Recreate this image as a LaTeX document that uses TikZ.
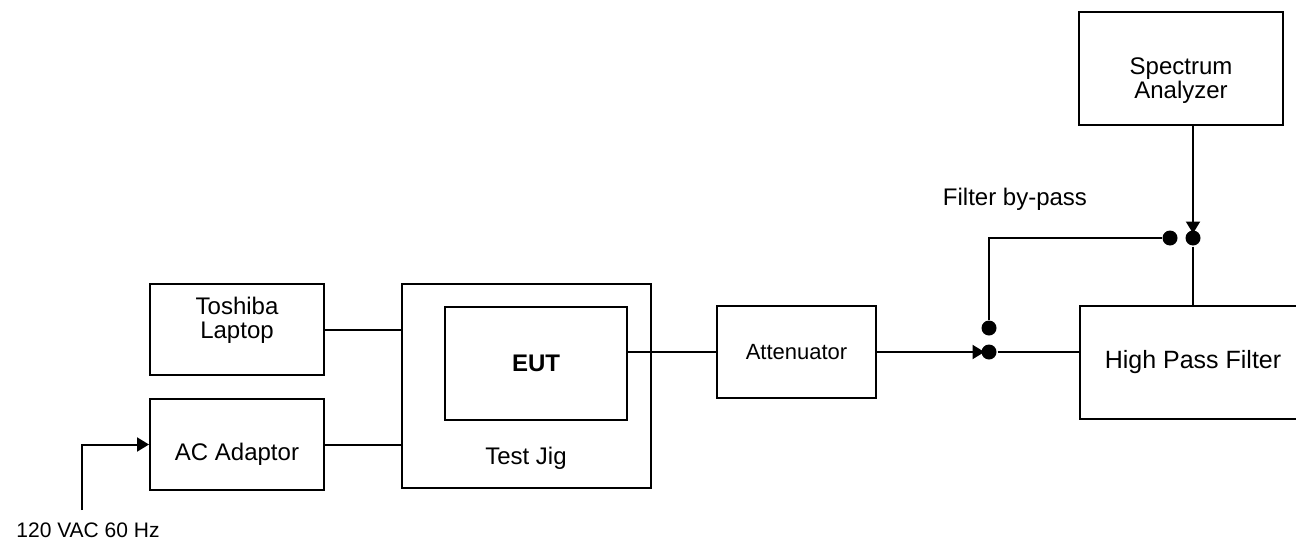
\documentclass[tikz,border=0pt]{standalone}
\usepackage{fontspec}
\setmainfont{Liberation Sans}
\usetikzlibrary{positioning,arrows.meta}

\begin{document}
\begin{tikzpicture}[x=0.5pt,y=-0.5pt,line width=1pt,
    block/.style={draw,rectangle,inner sep=0pt},
    txt/.style={align=center,font=\fontsize{12}{12}\selectfont},
    junction/.style={circle,fill,inner sep=0pt,minimum size=7.5pt},
    flow/.style={-{Triangle[length=6pt,width=7pt]}}]
\useasboundingbox (0,0) rectangle (1296,541);
\draw node[block,minimum width=87pt,minimum height=45.5pt,
      label={[txt,yshift=4.5pt]center:Toshiba\\Laptop}] (laptop) at (237,329.5) {};
\draw node[block,minimum width=87pt,minimum height=45.5pt,below=11pt of laptop,
      label={[txt,yshift=-5pt]center:AC Adaptor}] (adaptor) {};
\draw node[block,minimum width=124.5pt,minimum height=102pt,
      right=38pt of laptop.north east,anchor=north west] (jig) {};
\draw node[txt] (jiglabel) at (526,458) {Test Jig};
\draw node[block,txt,font=\fontsize{12}{12}\selectfont\bfseries,
      minimum width=91pt,minimum height=56.5pt] (eut) at (536,363.5) {EUT};
\draw node[block,txt,font=\fontsize{11}{12}\selectfont,
      minimum width=79.5pt,minimum height=46pt] (atten) at (796.5,352) {Attenuator};
\draw node[block,txt,font=\fontsize{12.5}{14}\selectfont,
      minimum width=113pt,minimum height=56.5pt] (hpf) at (1193,362.5) {High Pass Filter};
\draw node[block,minimum width=102pt,minimum height=56.5pt,
      label={[txt,yshift=-6pt]center:Spectrum\\Analyzer}] (analyzer) at (1181,68.5) {};
\draw node[txt,anchor=base] (bypasslabel) at (1015,205) {Filter by-pass};
\node[junction] (dotin) at (989,352) {};
\node[junction] (dotbyp) at (989,328) {};
\node[junction] (dottop) at (1170,238) {};
\node[junction] (dotout) at (1193,238) {};
\coordinate (mains) at (82,510);
\draw node[txt,font=\fontsize{10.5}{12}\selectfont,anchor=base] (mainslabel) at (88,537) {120 VAC 60 Hz};
\draw (laptop.east) -- (laptop.east -| jig.west);
\draw (adaptor.east) -- (adaptor.east -| jig.west);
\draw (atten.west -| eut.east) -- (atten.west);
\draw[flow,shorten >=-2pt] (atten.east) -- (dotin.west);
\draw (dotin) -- (dotin -| hpf.west);
\draw (dotbyp) |- (dottop);
\draw[flow,shorten >=-2pt] (analyzer.south -| dotout) -- (dotout.north);
\draw (dotout) -- (dotout |- hpf.north);
\draw[flow] (mains) |- (adaptor.west);
\end{tikzpicture}
\end{document}
